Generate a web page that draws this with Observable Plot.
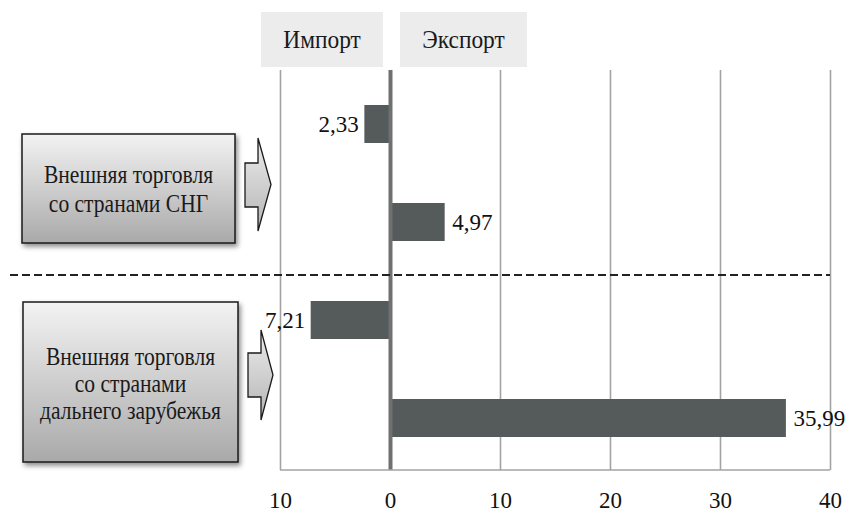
<!DOCTYPE html>
<html>
<head>
<meta charset="utf-8">
<script src="https://cdn.jsdelivr.net/npm/d3@7"></script>
<script src="https://cdn.jsdelivr.net/npm/@observablehq/plot@0.6"></script>
<style>
  html, body { margin: 0; padding: 0; background: #fff; }
  #chart svg { display: block; }
</style>
</head>
<body>
<div id="chart"></div>
<script>
// ---- data ----
const rows = ["СНГ — импорт", "СНГ — экспорт", "Дальнее зарубежье — импорт", "Дальнее зарубежье — экспорт"];
const flows = ["Импорт", "Экспорт", "Импорт", "Экспорт"];
const values = [2.33, 4.97, 7.21, 35.99];
const xTicks = [-10, 0, 10, 20, 30, 40];
const headers = ["Импорт", "Экспорт"];
const groupLabels = [
  ["Внешняя торговля", "со странами СНГ"],
  ["Внешняя торговля", "со странами", "дальнего зарубежья"]
];

const data = rows.map((r, i) => ({
  row: r,
  flow: flows[i],
  value: values[i],
  zero: 0,
  signed: flows[i] === "Импорт" ? -values[i] : values[i]
}));
const importData = data.filter(d => d.flow === "Импорт");
const exportData = data.filter(d => d.flow === "Экспорт");
const fmt = v => v.toFixed(2).replace(".", ",");
const FONT = "'Liberation Serif', 'Times New Roman', serif";

const plot = Plot.plot({
  width: 848,
  height: 513,
  marginLeft: 280,
  marginRight: 18,
  marginTop: 70,
  marginBottom: 43,
  style: {fontSize: "23px", color: "#111", background: "#fff", fontFamily: FONT},
  x: {domain: [-10, 40], ticks: xTicks, label: null},
  y: {type: "band", domain: rows, range: [74, 468], paddingInner: 0.614, paddingOuter: 0.307, axis: null, label: null},
  marks: [
    Plot.ruleX(xTicks.filter(d => d !== 0), {stroke: "#a3a3a3", strokeWidth: 1.6}),
    Plot.barX(data, {y: "row", x1: "zero", x2: "signed", fill: "#555a5b"}),
    Plot.ruleX([0], {stroke: "#707070", strokeWidth: 4}),
    Plot.text(importData, {
      y: "row", x: "signed", text: d => fmt(d.value),
      textAnchor: "end", dx: -6, fontSize: 23, fill: "#111"
    }),
    Plot.text(exportData, {
      y: "row", x: "signed", text: d => fmt(d.value),
      textAnchor: "start", dx: 7, fontSize: 23, fill: "#111"
    }),
    Plot.axisX(xTicks, {tickSize: 0, tickPadding: 21, tickFormat: d => Math.abs(d), fontSize: 23, fill: "#111", label: null})
  ]
});

document.getElementById("chart").appendChild(plot);
const svg = d3.select(plot);
const xs = plot.scale("x");
const X = v => xs.apply(v);

// ---- decorations ----
const defs = svg.insert("defs", ":first-child");
const g1 = defs.append("linearGradient").attr("id", "boxGrad").attr("x1", 0).attr("y1", 0).attr("x2", 0).attr("y2", 1);
g1.append("stop").attr("offset", "0%").attr("stop-color", "#f3f3f3");
g1.append("stop").attr("offset", "100%").attr("stop-color", "#a9a9a9");
const g2 = defs.append("linearGradient").attr("id", "arrGrad").attr("x1", 0).attr("y1", 0).attr("x2", 0).attr("y2", 1);
g2.append("stop").attr("offset", "0%").attr("stop-color", "#ececec");
g2.append("stop").attr("offset", "100%").attr("stop-color", "#b4b4b4");
const flt = defs.append("filter").attr("id", "shadow").attr("x", "-10%").attr("y", "-10%").attr("width", "130%").attr("height", "130%");
flt.append("feDropShadow").attr("dx", 2).attr("dy", 3).attr("stdDeviation", 2.5).attr("flood-color", "#000").attr("flood-opacity", 0.45);

const deco = svg.append("g");

// header boxes
const headerBoxes = [
  {x: 261, w: 122, label: headers[0]},
  {x: 400, w: 127, label: headers[1]}
];
headerBoxes.forEach(h => {
  deco.append("rect").attr("x", h.x).attr("y", 12).attr("width", h.w).attr("height", 55).attr("fill", "#ececec");
  deco.append("text")
    .attr("transform", `translate(${h.x + h.w / 2},48) scale(0.9,1)`)
    .attr("text-anchor", "middle")
    .attr("font-size", 26).attr("fill", "#1a1a1a").text(h.label);
});

// bottom axis line
const bottomY = 470;
deco.append("line").attr("x1", X(-10)).attr("x2", X(40)).attr("y1", bottomY).attr("y2", bottomY)
  .attr("stroke", "#a3a3a3").attr("stroke-width", 1.6);

// dashed separator
deco.append("line").attr("x1", 10).attr("x2", X(40)).attr("y1", 275).attr("y2", 275)
  .attr("stroke", "#222").attr("stroke-width", 2).attr("stroke-dasharray", "8,4");

// group boxes
const boxes = [
  {x: 22, y: 134, w: 213, h: 109, lines: groupLabels[0], base: 183, lh: 29},
  {x: 23, y: 302, w: 215, h: 160, lines: groupLabels[1], base: 365, lh: 27}
];
boxes.forEach(b => {
  deco.append("rect").attr("x", b.x).attr("y", b.y).attr("width", b.w).attr("height", b.h)
    .attr("fill", "url(#boxGrad)").attr("stroke", "#1a1a1a").attr("stroke-width", 1.5)
    .attr("filter", "url(#shadow)");
  const t = deco.append("text")
    .attr("transform", `translate(${b.x + b.w / 2},0) scale(0.88,1)`)
    .attr("text-anchor", "middle")
    .attr("font-size", 24.5).attr("fill", "#1a1a1a");
  b.lines.forEach((ln, i) => {
    t.append("tspan").attr("x", 0).attr("y", b.base + i * b.lh).text(ln);
  });
});

// block arrows
const arrows = [
  {x0: 245, xs: 258, xt: 271, top: 138, bot: 231, st: 163, sb: 207},
  {x0: 248, xs: 261, xt: 273, top: 330, bot: 420, st: 353, sb: 397}
];
arrows.forEach(a => {
  const mid = (a.top + a.bot) / 2;
  const p = `M${a.x0},${a.st} L${a.xs},${a.st} L${a.xs},${a.top} L${a.xt},${mid} L${a.xs},${a.bot} L${a.xs},${a.sb} L${a.x0},${a.sb} Z`;
  deco.append("path").attr("d", p).attr("fill", "url(#arrGrad)").attr("stroke", "#1a1a1a").attr("stroke-width", 1.3)
    .attr("stroke-linejoin", "miter");
});

// force serif font on every text
svg.selectAll("text").style("font-family", FONT);
</script>
</body>
</html>
